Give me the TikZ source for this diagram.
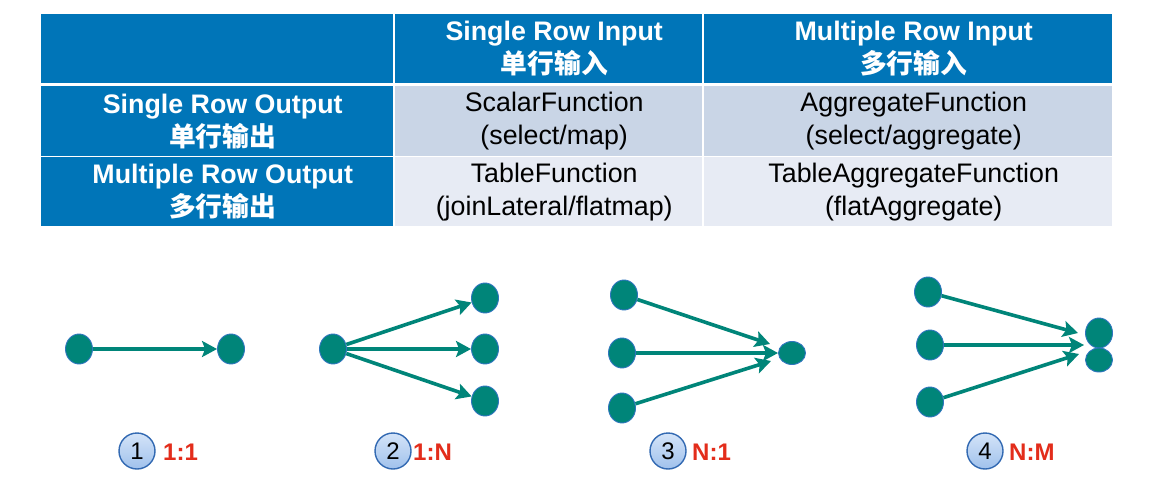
\documentclass[tikz,border=0pt]{standalone}
\usepackage{fontspec}
\setmainfont{Liberation Sans}
\newfontfamily\cjk{Noto Sans CJK SC}
\usetikzlibrary{arrows.meta,shapes.geometric}
\definecolor{hblue}{RGB}{0,117,184}
\definecolor{rowa}{RGB}{201,213,230}
\definecolor{rowb}{RGB}{231,235,244}
\definecolor{teal1}{RGB}{0,133,121}
\definecolor{nborder}{RGB}{47,117,190}
\definecolor{lred}{RGB}{227,45,27}
\definecolor{cborder}{RGB}{50,105,178}
\definecolor{ctop}{RGB}{212,228,248}
\definecolor{cbot}{RGB}{160,193,236}
\newcommand{\shx}{\hspace*{11pt}}
\begin{document}
\begin{tikzpicture}[x=1pt,y=-1pt,
  cell/.style={rectangle, inner sep=0pt, anchor=north west, align=center,
    font=\fontsize{26.8}{33}\selectfont},
  hcell/.style={cell, fill=hblue, text=white, font=\fontsize{26.8}{33}\selectfont\bfseries},
  acell/.style={cell, fill=rowa, text=black},
  bcell/.style={cell, fill=rowb, text=black},
  dot/.style={ellipse, fill=teal1, draw=nborder, line width=0.9pt,
    minimum width=27pt, minimum height=30pt, inner sep=0pt},
  arr/.style={draw=teal1, line width=3.6pt, -{Stealth[length=15pt,width=16pt,inset=3pt]}},
  numc/.style={circle, minimum size=36pt, inner sep=0pt, draw=cborder, line width=1.4pt,
    top color=ctop, bottom color=cbot, text=black, font=\fontsize{24}{24}\selectfont},
  ratio/.style={anchor=west, inner sep=0pt, text=lred, font=\fontsize{24}{24}\selectfont\bfseries}
]
\useasboundingbox[fill=white] (0,0) rectangle (1174,489);

% table
\node[hcell, minimum width=352pt, minimum height=69pt] (h0) at (41,14) {};
\node[hcell, minimum width=307pt, minimum height=69pt] (h1) at (395,14)
  {\shx Single Row Input\\\shx{\cjk 单行输入}};
\node[hcell, minimum width=408pt, minimum height=69pt] (h2) at (704,14)
  {\shx Multiple Row Input\\\shx{\cjk 多行输入}};

\node[hcell, minimum width=352pt, minimum height=70pt] (r1) at (41,86)
  {\shx Single Row Output\\\shx{\cjk 单行输出}};
\node[acell, minimum width=307pt, minimum height=70pt] (c11) at (395,86)
  {\shx ScalarFunction\\\shx(select/map)};
\node[acell, minimum width=408pt, minimum height=70pt] (c12) at (704,86)
  {\shx AggregateFunction\\\shx(select/aggregate)};

\node[hcell, minimum width=352pt, minimum height=69pt] (r2) at (41,157)
  {\shx Multiple Row Output\\\shx{\cjk 多行输出}};
\node[bcell, minimum width=307pt, minimum height=69pt] (c21) at (395,157)
  {\shx TableFunction\\\shx(joinLateral/flatmap)};
\node[bcell, minimum width=408pt, minimum height=69pt] (c22) at (704,157)
  {\shx TableAggregateFunction\\\shx(flatAggregate)};

% diagram 1
\node[dot] (a1) at (79,349) {};
\node[dot] (a2) at (231,349) {};
\draw[arr] (a1) -- (a2);

% diagram 2
\node[dot] (b0) at (333,349) {};
\node[dot] (b1) at (485,298) {};
\node[dot] (b2) at (485,349) {};
\node[dot] (b3) at (485,401) {};
\draw[arr] (b0) -- (b1);
\draw[arr] (b0) -- (b2);
\draw[arr] (b0) -- (b3);

% diagram 3
\node[dot] (s31) at (624,295) {};
\node[dot] (s32) at (622,353) {};
\node[dot] (s33) at (622,408) {};
\node[dot, minimum height=23pt] (t3) at (792,353) {};
\coordinate (e31) at (770,344);
\coordinate (e32) at (778,353);
\coordinate (e33) at (771,361);
\draw[arr] (s31) -- (e31);
\draw[arr] (s32) -- (e32);
\draw[arr] (s33) -- (e33);

% diagram 4
\node[dot] (s41) at (928,292) {};
\node[dot] (s42) at (930,345) {};
\node[dot] (s43) at (930,402) {};
\node[dot] (t41) at (1099,333) {};
\node[dot, minimum height=24pt] (t42) at (1099,360) {};
\coordinate (e41) at (1078,333);
\coordinate (e42) at (1084,345);
\coordinate (e43) at (1079,354);
\draw[arr] (s41) -- (e41);
\draw[arr] (s42) -- (e42);
\draw[arr] (s43) -- (e43);

% labels
\node[numc] (n1) at (137,451) {1};
\node[ratio] (l1) at (163,452) {1:1};
\node[numc] (n2) at (393,451) {2};
\node[ratio] (l2) at (413,452) {1:N};
\node[numc] (n3) at (668,451) {3};
\node[ratio] (l3) at (692,452) {N:1};
\node[numc] (n4) at (985,451) {4};
\node[ratio] (l4) at (1009,452) {N:M};
\end{tikzpicture}
\end{document}
